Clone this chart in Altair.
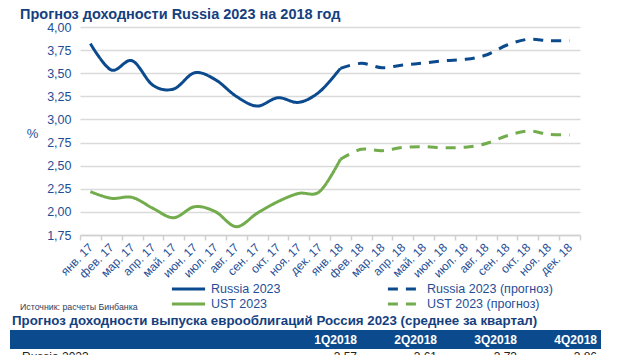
import altair as alt
import pandas as pd

months = ["янв. 17", "фев. 17", "мар. 17", "апр. 17", "май. 17", "июн. 17",
          "июл. 17", "авг. 17", "сен. 17", "окт. 17", "ноя. 17", "дек. 17",
          "янв. 18", "фев. 18", "мар. 18", "апр. 18", "май. 18", "июн. 18",
          "июл. 18", "авг. 18", "сен. 18", "окт. 18", "ноя. 18", "дек. 18"]

russia_actual = [3.82, 3.535, 3.635, 3.37, 3.33, 3.505, 3.43, 3.25, 3.145, 3.235, 3.185, 3.30, 3.553]
russia_forecast = [3.553, 3.607, 3.56, 3.589, 3.61, 3.635, 3.65, 3.697, 3.805, 3.867, 3.852, 3.852]
ust_actual = [2.219, 2.147, 2.157, 2.039, 1.937, 2.056, 2.002, 1.84, 1.985, 2.111, 2.20, 2.22, 2.569]
ust_forecast = [2.569, 2.677, 2.662, 2.698, 2.705, 2.694, 2.70, 2.74, 2.824, 2.875, 2.84, 2.832]

# legend order (filled column by column: left column solid, right column forecast)
series_order = ["Russia 2023", "UST 2023", "Russia 2023 (прогноз)", "UST 2023 (прогноз)"]
series_colors = ["#0C4A8E", "#72AC4D", "#0C4A8E", "#72AC4D"]
series_dash = [[1, 0], [1, 0], [10, 8], [10, 8]]

quarters = ["1Q2018", "2Q2018", "3Q2018", "4Q2018"]
quarter_values = ["3,57", "3,61", "3,73", "3,86"]

title_text = "Прогноз доходности Russia 2023 на 2018 год"
source_text = "Источник: расчеты Бинбанка"
subtitle_text = "Прогноз доходности выпуска еврооблигаций Россия 2023 (среднее за квартал)"
row_label = "Russia 2023"

FONT = "Liberation Sans"
BLUE_TXT = "#1F4E96"
NAVY = "#15407E"

rows = []
for i, v in enumerate(russia_actual):
    rows.append({"month": months[i], "value": v, "series": "Russia 2023"})
for i, v in enumerate(russia_forecast):
    rows.append({"month": months[12 + i], "value": v, "series": "Russia 2023 (прогноз)"})
for i, v in enumerate(ust_actual):
    rows.append({"month": months[i], "value": v, "series": "UST 2023"})
for i, v in enumerate(ust_forecast):
    rows.append({"month": months[12 + i], "value": v, "series": "UST 2023 (прогноз)"})
df = pd.DataFrame(rows)

lines = alt.Chart(df).mark_line(interpolate="cardinal", strokeWidth=3, strokeCap="butt").encode(
    x=alt.X("month:N", sort=months, bandPosition=0.5,
            scale=alt.Scale(type="band", domain=months, paddingInner=0, paddingOuter=0),
            axis=alt.Axis(title=None, labelAngle=-45, labelAlign="right", labelBaseline="middle",
                          tickBand="extent", ticks=True, tickSize=5, tickColor="#D0D0D0", tickWidth=1.5,
                          domainColor="#D0D0D0", domainWidth=1.5, labelColor=BLUE_TXT,
                          labelFontSize=12, labelFont=FONT, labelPadding=5, labelOverlap=False,
                          grid=False)),
    y=alt.Y("value:Q", scale=alt.Scale(domain=[1.75, 4.0], nice=False, zero=False),
            axis=alt.Axis(values=[1.75, 2.0, 2.25, 2.5, 2.75, 3.0, 3.25, 3.5, 3.75, 4.0],
                          labelExpr="replace(format(datum.value, '.2f'), '.', ',')",
                          title="%", titleAngle=0, titleX=-48, titleY=106, titleAlign="center",
                          titleBaseline="middle", titleFontSize=13, titleFontWeight="normal",
                          titleColor=BLUE_TXT, titleFont=FONT,
                          domain=False, ticks=False, grid=True, gridColor="#DADADA", gridWidth=1.5,
                          labelColor=BLUE_TXT, labelFontSize=12.5, labelFont=FONT, labelPadding=9)),
    color=alt.Color("series:N", sort=series_order,
                    scale=alt.Scale(domain=series_order, range=series_colors),
                    legend=alt.Legend(title=None)),
    strokeDash=alt.StrokeDash("series:N", sort=series_order,
                              scale=alt.Scale(domain=series_order, range=series_dash),
                              legend=alt.Legend(title=None)),
)

def label(text, x, y, size, color, weight="normal", align="left", baseline="middle"):
    return alt.Chart(pd.DataFrame({"t": [text]})).mark_text(
        align=align, baseline=baseline, fontSize=size, font=FONT, fontWeight=weight, color=color
    ).encode(x=alt.value(x), y=alt.value(y), text="t:N")

title = label(title_text, -60, -8, 14.5, NAVY, "bold", baseline="alphabetic")
source = label(source_text, -60, 280, 8.8, "#2F3E5C")
subtitle = label(subtitle_text, -68, 294, 13.3, NAVY, "bold")

bar = alt.Chart(pd.DataFrame({"a": [0]})).mark_rect(color="#0B4A8C").encode(
    x=alt.value(-70), x2=alt.value(521), y=alt.value(303), y2=alt.value(322))

qdf = pd.DataFrame({"q": quarters, "v": quarter_values})
qx = alt.X("q:N", sort=quarters, scale=alt.Scale(type="point", domain=quarters, range=[277, 517], padding=0), axis=None)
qhead = alt.Chart(qdf).mark_text(align="right", baseline="middle", fontSize=12, font=FONT,
                                 fontWeight="bold", color="white").encode(
    x=qx, y=alt.value(312.5), text="q:N")
qvals = alt.Chart(qdf).mark_text(align="right", baseline="alphabetic", fontSize=12, font=FONT,
                                 color="#222222").encode(
    x=qx, y=alt.value(334), text="v:N")
rowlab = label(row_label, -58, 334, 12, "#222222", baseline="alphabetic")

chart = alt.layer(lines, title, source, subtitle, bar, qhead, qvals, rowlab).resolve_scale(
    x="independent"
).properties(
    width=500, height=208,
    autosize=alt.AutoSizeParams(type="none"),
    padding={"left": 72, "top": 19, "right": 42, "bottom": 120},
).configure_view(stroke=None).configure_legend(
    orient="none", legendX=90, legendY=255, columns=2, symbolType="stroke",
    symbolSize=1100, symbolStrokeWidth=3, labelFont=FONT, labelFontSize=12.5,
    labelColor=BLUE_TXT, labelOffset=4, columnPadding=105, rowPadding=1, padding=0,
    labelLimit=300, clipHeight=14
)

chart.save("out.html", embed_options={"renderer": "svg", "actions": False})
